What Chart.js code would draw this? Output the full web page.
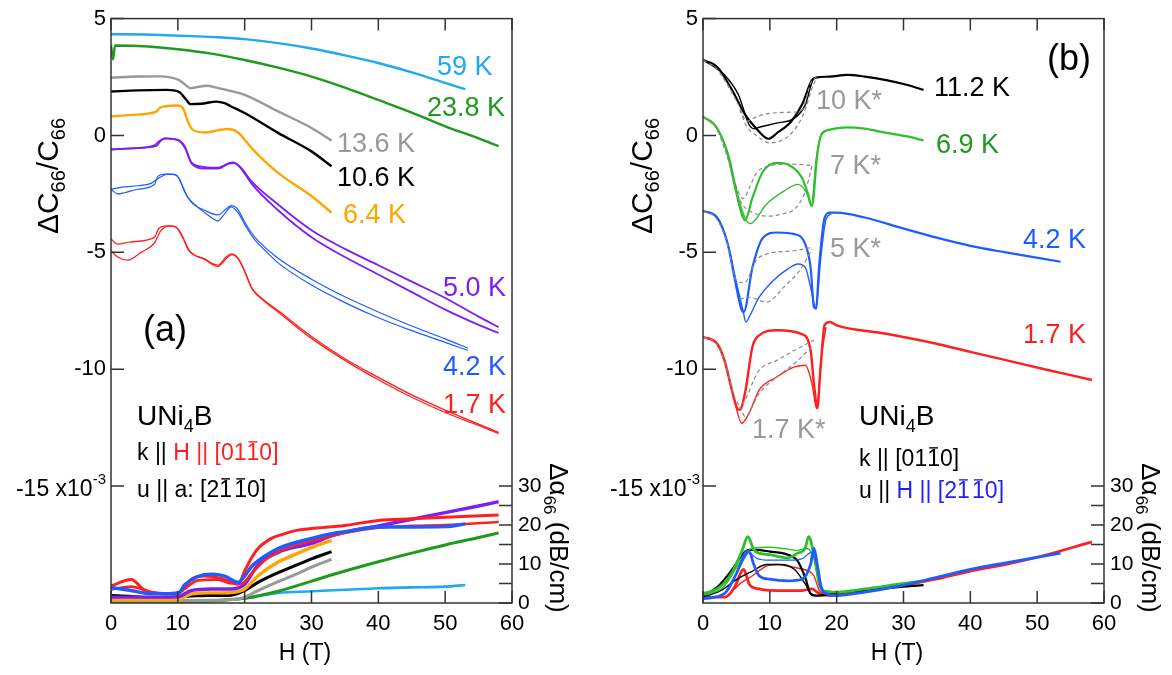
<!DOCTYPE html>
<html>
<head>
<meta charset="utf-8">
<title>UNi4B C66</title>
<script src="https://cdn.jsdelivr.net/npm/chart.js"></script>
<style>
  html, body { margin: 0; padding: 0; background: #fff; }
  #wrap { position: relative; width: 1172px; height: 675px; overflow: hidden; }
  #wrap canvas { position: absolute; top: 0; }
</style>
</head>
<body>
<div id="wrap">
  <canvas id="panelA" width="586" height="675" style="left:0"></canvas>
  <canvas id="panelB" width="586" height="675" style="left:586px"></canvas>
</div>
<script>
const FONT = "'Liberation Sans', Arial, Helvetica, sans-serif";

// axes
const H_TICKS = [0, 10, 20, 30, 40, 50, 60];
const C_TICKS = [5, 0, -5, -10, -15];          // ΔC66/C66 (x10^-3)
const ALPHA_TICKS = [0, 5, 10, 15, 20, 25, 30]; // Δα66 (dB/cm)

// ---------- (a) k || H || [01-10], ΔC66/C66 : [H (T), value] ----------
const aC59 = [[0,4.33],[5,4.32],[8.3,4.29],[12,4.25],[16,4.2],[20,4.12],[25,3.95],[30,3.72],[35,3.43],[40,3.1],[45,2.7],[50,2.25],[53,1.98]];
const aC23_8 = [[0,3.86],[0.3,3.25],[0.6,3.85],[5,3.82],[10,3.69],[15,3.5],[20,3.23],[25,2.9],[30,2.52],[35,2.05],[40,1.52],[45,0.98],[50,0.39],[55,-0.12],[58,-0.46]];
const aC13_6 = [[0,2.47],[4,2.52],[7.2,2.53],[10.2,2.37],[11.2,2.15],[11.9,2.02],[13,2.08],[14.3,2.13],[16,2.03],[18,1.9],[20,1.74],[25,1.03],[30,0.32],[33,-0.22]];
const aC10_6 = [[0,1.88],[4,1.93],[8.3,1.95],[10.2,1.86],[11.2,1.55],[11.9,1.34],[13.5,1.36],[15.8,1.45],[17,1.38],[18,1.24],[20,0.96],[25,0.11],[30,-0.68],[33,-1.32]];
const aC6_4 = [[0,0.81],[3,0.88],[6.8,1.02],[7.3,1.18],[8,1.24],[10,1.28],[10.8,1.15],[11.5,0.6],[12.2,0.25],[14,0.13],[16,0.22],[17.5,0.28],[19,0.13],[21,-0.53],[25,-1.6],[30,-2.59],[33,-3.3]];
const aC5_0up = [[0,-0.6],[3,-0.55],[6.8,-0.45],[7.5,-0.2],[8,-0.12],[10,-0.19],[11,-0.45],[12,-1.15],[14,-1.35],[16,-1.38],[17.5,-1.2],[18.3,-1.15],[19.5,-1.4],[21,-1.95],[25,-2.95],[30,-4.05],[35,-4.85],[40,-5.55],[45,-6.25],[50,-6.95],[55,-7.75],[58,-8.2]];
const aC5_0dn = [[0,-0.6],[3,-0.55],[6.5,-0.42],[7.2,-0.25],[8.2,-0.12],[10.2,-0.22],[11.2,-0.6],[12.2,-1.25],[14,-1.42],[16,-1.42],[17.5,-1.22],[18.5,-1.18],[19.8,-1.55],[21,-2.05],[25,-3.2],[30,-4.35],[35,-5.2],[40,-5.95],[45,-6.7],[50,-7.45],[55,-8.1],[58,-8.45]];
const aC4_2up = [[0,-2.3],[1,-2.5],[2,-2.45],[4,-2.3],[6.5,-2.1],[7,-1.75],[8,-1.65],[9.5,-1.66],[10.3,-1.9],[11,-2.4],[12,-2.85],[14,-3.2],[16,-3.4],[17.2,-3.15],[18,-3.0],[18.8,-3.1],[20,-3.7],[21,-4.15],[22,-4.5],[25,-5.25],[30,-6.15],[35,-6.9],[40,-7.55],[45,-8.15],[50,-8.7],[53.4,-9.1]];
const aC4_2dn = [[0,-2.3],[2,-2.2],[4,-2.15],[6,-2.05],[7,-1.85],[8.5,-1.65],[9.8,-1.7],[10.6,-2.1],[11.4,-2.6],[12.5,-2.95],[14.5,-3.4],[16,-3.65],[17,-3.35],[18,-3.05],[19,-3.3],[20.2,-3.9],[21.5,-4.45],[23,-4.9],[25,-5.45],[30,-6.4],[35,-7.15],[40,-7.8],[45,-8.35],[50,-8.85],[53.4,-9.2]];
const aC1_7up = [[0,-4.43],[1,-4.65],[3,-4.55],[6.5,-4.36],[7.1,-4.0],[8.4,-3.87],[9.6,-3.9],[10.5,-4.2],[11.6,-4.9],[14,-5.28],[16,-5.55],[17.2,-5.2],[18,-5.07],[19,-5.25],[20,-5.8],[21,-6.5],[22.5,-6.95],[25,-7.49],[30,-8.6],[35,-9.55],[40,-10.35],[45,-11.1],[50,-11.75],[55,-12.35],[58,-12.7]];
const aC1_7dn = [[0,-4.93],[1,-5.2],[2.5,-5.33],[4.5,-5.0],[6.5,-4.6],[7.4,-4.1],[8.8,-3.87],[9.8,-3.95],[10.8,-4.4],[11.8,-4.95],[14,-5.3],[16,-5.6],[17.4,-5.22],[18.2,-5.1],[19.2,-5.35],[20.2,-5.95],[21.2,-6.6],[23,-7.1],[25,-7.55],[30,-8.68],[35,-9.62],[40,-10.45],[45,-11.2],[50,-11.85],[55,-12.4],[58,-12.75]];

// (a) Δα66 (dB/cm)
const aA59 = [[0,0.3],[10,0.4],[15,0.5],[20,1.2],[25,2.6],[30,3.0],[35,3.4],[40,3.8],[45,4.0],[50,4.2],[53,4.6]];
const aA23_8 = [[0,0.5],[10,0.5],[15,0.6],[20,1.2],[25,3.0],[30,5.6],[35,8.2],[40,10.6],[45,12.8],[50,14.9],[55,16.8],[58,18.0]];
const aA13_6 = [[0,0.6],[10,0.6],[15,0.7],[19,1.0],[20,1.5],[22,3.2],[25,5.5],[28,7.6],[30,9.2],[33,11.2]];
const aA10_6 = [[0,1.9],[3,1.7],[6,1.4],[10,1.5],[12,1.8],[15,1.9],[18,2.0],[20,3.2],[22,5.3],[25,7.8],[28,9.9],[30,11.3],[33,13.2]];
const aA6_4 = [[0,0.8],[5,0.8],[10,0.9],[12,2.3],[15,2.6],[18,2.7],[20,3.6],[22,7.0],[25,10.5],[28,12.8],[31,14.9],[33,16.1]];
const aA5_0 = [[0,1.5],[5,1.5],[10,1.6],[12,3.2],[15,3.6],[18,3.6],[20,4.8],[22,9.8],[25,13.0],[30,15.3],[33,17.2],[35,18.2],[40,19.8],[45,21.5],[50,23.2],[55,24.9],[58,26.0]];
const aA4_2 = [[0,4.0],[3,3.2],[6,2.4],[10,2.4],[11,4.6],[13,6.8],[15,7.4],[17,6.9],[19,5.3],[20,6.9],[21,9.3],[23,12.0],[25,14.0],[30,16.6],[33,17.8],[35,18.3],[40,19.5],[45,19.5],[50,19.6],[53,20.3]];
const aA1_7up = [[0,4.4],[3,6.0],[5,3.4],[8,2.4],[10,2.7],[11,3.8],[12,6.1],[14,6.9],[16,6.5],[18,5.4],[19,4.8],[20,8.2],[21,11.5],[22,14.0],[24,16.6],[26,17.8],[28,18.7],[30,19.1],[35,19.9],[40,21.2],[45,21.6],[50,22.0],[58,22.6]];
const aA1_7dn = [[0,3.5],[3,4.2],[6,2.8],[10,2.4],[11,3.6],[13,5.8],[16,6.0],[18,5.0],[19.5,5.0],[21,7.5],[23,11.0],[25,13.2],[30,16.0],[35,18.0],[40,19.3],[45,19.8],[50,20.0],[58,20.8]];

// ---------- (b) u || H || [2-1-10], ΔC66/C66 ----------
const bC11_2up = [[0,3.23],[2.1,2.94],[4.2,2.02],[6.3,0.89],[7.9,0.32],[9.8,-0.14],[11.1,0.11],[13.2,0.6],[14.8,1.31],[16.3,2.37],[16.9,2.47],[19,2.52],[21.6,2.59],[24.2,2.52],[27.4,2.37],[30.6,2.16],[33,1.95]];
const bC11_2dn = [[0,3.23],[1.6,2.95],[3.2,2.6],[5.3,1.74],[6.9,0.46],[7.7,0.29],[8.4,0.35],[11,0.53],[13.7,0.74],[15.3,1.31],[16.6,2.45],[17.2,2.5]];
const bC10sim_up = [[0,3.23],[2,2.85],[4,2.0],[5.5,1.2],[6.5,0.6],[8,0.8],[10,0.95],[13.5,1.0],[14.8,1.1],[16.2,2.3],[17,2.5]];
const bC10sim_dn = [[5.5,1.1],[6.5,0.4],[8,0.0],[10,-0.32],[12,-0.18],[13.5,0.18],[15,0.89],[16.5,2.16],[17,2.45]];
const bC6_9up = [[0,0.81],[2.1,0.32],[3.7,-0.82],[4.7,-2.09],[5.8,-3.37],[6.3,-3.63],[7.4,-2.66],[9,-1.53],[11.1,-1.17],[12.7,-1.24],[14.8,-1.81],[15.6,-2.4],[16.3,-3.02],[17.1,-0.82],[17.7,0.03],[19,0.25],[21.6,0.35],[24.2,0.29],[27.4,0.11],[30.6,-0.04],[33,-0.22]];
const bC6_9dn = [[0,0.81],[2.1,0.3],[3.9,-0.9],[5,-2.3],[6.1,-3.4],[7.1,-3.77],[9.5,-2.94],[12.1,-2.38],[14.2,-2.09],[15.6,-2.52],[16.2,-3.0],[16.9,-1.1],[17.5,-0.1],[18.2,0.2]];
const bC7sim_up = [[0,0.8],[2,0.3],[3.5,-0.8],[5,-2.2],[6,-2.7],[7,-2.2],[8,-1.6],[10,-1.3],[13,-1.22],[15,-1.25],[16.5,-1.3]];
const bC7sim_dn = [[5,-2.5],[6,-3.0],[7.5,-3.3],[9.5,-3.45],[12,-3.35],[13.7,-3.15],[15.3,-2.4],[16.3,-1.3]];
const bC4_2up = [[0,-3.23],[2.1,-3.51],[3.7,-4.65],[4.7,-6.07],[5.8,-7.48],[6.1,-7.55],[7.4,-5.64],[9,-4.36],[11.1,-4.15],[13.7,-4.22],[15.3,-4.65],[16.1,-5.64],[16.6,-7.34],[16.9,-7.4],[17.4,-5.5],[18.2,-3.51],[19,-3.3],[20,-3.3],[24.2,-3.51],[29.5,-3.94],[34.8,-4.36],[40,-4.72],[45.3,-5.0],[53.5,-5.4]];
const bC4_2dn = [[0,-3.23],[2.1,-3.5],[3.8,-4.7],[5,-6.3],[6,-7.5],[6.4,-7.98],[6.9,-7.77],[8.4,-6.92],[10.5,-6.21],[12.7,-5.71],[14.2,-5.5],[15.3,-5.64],[16.1,-6.49],[16.9,-7.41],[17.6,-5.3],[18.4,-3.6],[19.2,-3.35]];
const bC5sim_up = [[0,-3.23],[2,-3.55],[3.5,-4.5],[5,-6.2],[6.2,-6.3],[7.9,-5.36],[9.5,-5.07],[13.7,-4.93],[16.3,-4.79]];
const bC5sim_dn = [[5.5,-7.0],[6.9,-6.92],[9.5,-7.13],[12.1,-6.49],[14.8,-5.64],[16.3,-4.86]];
const bC1_7up = [[0,-8.62],[2.1,-8.9],[3.2,-9.61],[4.2,-10.75],[5,-11.6],[5.5,-11.74],[6.3,-11.0],[7.4,-9.04],[8.4,-8.55],[11.1,-8.33],[14.8,-8.5],[16.1,-9.19],[16.6,-10.6],[17.1,-11.67],[17.6,-9.9],[18.2,-8.1],[19,-7.98],[20,-8.12],[27.4,-8.48],[34.8,-8.9],[40,-9.26],[45.3,-9.61],[50.6,-9.97],[58.2,-10.46]];
const bC1_7dn = [[0,-8.62],[2.1,-8.95],[3.4,-9.8],[4.6,-11.2],[5.8,-12.31],[6.9,-11.88],[8.4,-10.89],[11.1,-10.32],[13.7,-9.9],[15.3,-9.83],[16.3,-10.6],[17,-11.67],[17.7,-9.5],[18.4,-8.2]];
const bC1_7sim_up = [[0,-8.62],[2,-8.9],[3.5,-9.9],[4.7,-11.17],[5.5,-11.53],[8.4,-10.04],[11.1,-9.61],[13.7,-9.19],[16.6,-8.76]];
const bC1_7sim_dn = [[5.5,-11.6],[6.3,-12.02],[8.4,-11.03],[11.1,-10.32],[13.7,-9.75],[16.3,-9.04]];

// (b) Δα66 (dB/cm)
const bA11_2up = [[0,1.9],[2.1,4.0],[4.2,8.2],[6.3,13.2],[7.4,13.7],[10,13.2],[12.7,12.4],[14.2,10.7],[15.3,6.5],[16.1,2.4],[17,1.9],[20,2.6],[25,3.4],[30,4.2],[33,4.6]];
const bA11_2dn = [[0,1.5],[3,3.5],[4.7,5.7],[7.4,8.2],[9.5,9.9],[11.6,9.9],[13.7,8.6],[15.3,4.9],[16.4,1.9],[18,1.9]];
const bA6_9up = [[0,2.4],[2.1,3.6],[4.2,7.4],[5.8,13.2],[6.7,17.0],[7.6,13.7],[8.4,12.8],[10,12.4],[12.7,11.6],[14.2,12.8],[15.3,14.1],[15.8,17.0],[16.6,12.4],[17.4,4.9],[17.9,3.2],[20,2.8],[24.2,3.6],[29.5,4.9],[33,5.7]];
const bA6_9dn = [[0,2.0],[3,4.0],[5,9.0],[6.5,13.0],[8,14.2],[10,14.3],[12,14.0],[14,13.5],[15.5,14.0],[16.5,12.0],[17.5,5.0],[18,3.0]];
const bA4_2up = [[0,1.1],[3.2,2.4],[4.7,6.5],[6.1,11.6],[6.9,13.2],[7.6,9.9],[8.4,7.0],[10,6.1],[12.7,5.7],[14.8,6.1],[16.1,9.9],[16.6,14.1],[17.1,9.9],[17.7,4.0],[18.5,2.4],[20,1.9],[24.2,2.8],[29.5,4.4],[34.8,6.5],[40,8.6],[45.3,10.3],[53.5,12.8]];
const bA4_2dn = [[0,1.0],[3.5,2.8],[5,7.5],[6.5,13.5],[8,11.5],[10,11.0],[13,11.0],[15,11.5],[16.2,13.0],[17,10.0],[17.8,3.0],[19,2.0]];
const bA1_7up = [[0,1.5],[3.2,1.5],[4.7,4.0],[5.8,8.2],[6.1,8.6],[6.9,4.9],[8.4,3.6],[11.1,3.2],[14.8,3.2],[16.3,3.6],[17.4,2.4],[19,1.9],[24.2,3.2],[29.5,4.4],[34.8,6.1],[40,8.2],[45.3,9.9],[50.6,12.0],[58.2,15.7]];
const bA1_7dn = [[4.7,3.5],[5.5,4.9],[7.4,7.0],[9.5,9.5],[11.1,9.9],[13.7,9.1],[15.8,8.2],[16.6,7.0],[17.4,3.2],[18.5,2.0]];

const SKY = '#1fa9f0', GREEN = '#1e9a1e', LIME = '#2cc02c', GRAY = '#999999', DASH = '#8a8a8a';
const BLACK = '#000000', ORANGE = '#ffa500', PURPLE = '#7d1ff0', BLUE = '#1f5cff', RED = '#ff1f1f';

function ds(pts, color, width, axis, dash) {
    return {
        data: pts.map(p => ({ x: p[0], y: p[1] })),
        borderColor: color,
        borderWidth: width,
        borderDash: dash || [],
        yAxisID: axis,
        pointRadius: 0,
        pointHitRadius: 0,
        cubicInterpolationMode: 'monotone',
        fill: false
    };
}

// box + inner tick marks, taken from the scales
const framePlugin = {
    id: 'frame',
    afterDatasetsDraw(chart) {
        const { ctx, chartArea: a, scales } = chart;
        ctx.save();
        ctx.strokeStyle = '#333';
        ctx.lineWidth = 1.5;
        ctx.beginPath();
        scales.x.ticks.forEach(t => {
            const p = scales.x.getPixelForValue(t.value);
            ctx.moveTo(p, a.bottom); ctx.lineTo(p, a.bottom - 12);
            ctx.moveTo(p, a.top); ctx.lineTo(p, a.top + 12);
        });
        scales.y.ticks.forEach(t => {
            const p = scales.y.getPixelForValue(t.value);
            ctx.moveTo(a.left, p); ctx.lineTo(a.left + 13, p);
        });
        scales.y1.ticks.forEach(t => {
            const p = scales.y1.getPixelForValue(t.value);
            ctx.moveTo(a.right, p); ctx.lineTo(a.right - 13, p);
        });
        ctx.stroke();
        ctx.strokeRect(a.left, a.top, a.right - a.left, a.bottom - a.top);
        ctx.restore();
    }
};

// text with sub/superscripts and overbars
function drawRich(ctx, it) {
    const size = it.size;
    ctx.save();
    ctx.translate(it.x, it.y);
    if (it.rot) ctx.rotate(it.rot);
    ctx.textBaseline = 'alphabetic';
    ctx.textAlign = 'left';
    const parts = it.parts.map(p => {
        const s = p.s || size;
        ctx.font = s + 'px ' + FONT;
        return { t: p.t, s: s, c: p.c || it.color || '#000', dy: p.dy || 0, bar: p.bar, w: ctx.measureText(p.t).width };
    });
    const total = parts.reduce((n, p) => n + p.w, 0);
    let x = it.align === 'center' ? -total / 2 : it.align === 'right' ? -total : 0;
    const base = 0.36 * size;
    parts.forEach(p => {
        ctx.font = p.s + 'px ' + FONT;
        ctx.fillStyle = p.c;
        ctx.fillText(p.t, x, base + p.dy);
        if (p.bar) {
            ctx.strokeStyle = p.c;
            ctx.lineWidth = 1.4;
            ctx.beginPath();
            ctx.moveTo(x + 2, base - 0.8 * p.s);
            ctx.lineTo(x + p.w - 2, base - 0.8 * p.s);
            ctx.stroke();
        }
        x += p.w;
    });
    ctx.restore();
}

function notesPlugin(items) {
    return {
        id: 'notes',
        afterDraw(chart) {
            items.forEach(it => drawRich(chart.ctx, it));
        }
    };
}

function makePanel(id, datasets, leftW, rightW, notes) {
    const tickFont = { family: FONT, size: 22 };
    return new Chart(document.getElementById(id), {
        type: 'line',
        data: { datasets: datasets },
        options: {
            responsive: false,
            animation: false,
            devicePixelRatio: 1,
            layout: { padding: { top: 13, left: 0, right: 0, bottom: 0 }, autoPadding: false },
            plugins: { legend: { display: false }, tooltip: { enabled: false } },
            scales: {
                x: {
                    type: 'linear', min: 0, max: 60,
                    grid: { display: false, drawTicks: false },
                    border: { display: false },
                    afterBuildTicks: s => { s.ticks = H_TICKS.map(v => ({ value: v })); },
                    afterFit: s => { s.height = 72; },
                    ticks: { color: '#000', font: tickFont, padding: 8, maxRotation: 0, autoSkip: false }
                },
                y: {
                    type: 'linear', position: 'left', min: -20, max: 5,
                    grid: { display: false, drawTicks: false },
                    border: { display: false },
                    afterBuildTicks: s => { s.ticks = C_TICKS.map(v => ({ value: v })); },
                    afterFit: s => { s.width = leftW; },
                    ticks: { color: '#000', font: tickFont, padding: 5, autoSkip: false,
                        callback: v => (v === -15 ? '' : String(v)) }
                },
                y1: {
                    type: 'linear', position: 'right', min: 0, max: 150,
                    grid: { display: false, drawTicks: false },
                    border: { display: false },
                    afterBuildTicks: s => { s.ticks = ALPHA_TICKS.map(v => ({ value: v })); },
                    afterFit: s => { s.width = rightW; },
                    ticks: { color: '#000', font: { family: FONT, size: 21 }, padding: 6, autoSkip: false,
                        callback: v => (v % 10 === 0 ? String(v) : '') }
                }
            }
        },
        plugins: [framePlugin, notesPlugin(notes)]
    });
}

function axisNotes(leftX, rightX, hX, expRight) {
    return [
        { x: leftX, y: 176, size: 30, align: 'center', rot: -Math.PI / 2,
          parts: [{ t: 'ΔC' }, { t: '66', s: 20, dy: 7 }, { t: '/C' }, { t: '66', s: 20, dy: 7 }] },
        { x: rightX, y: 538, size: 26, align: 'center', rot: Math.PI / 2,
          parts: [{ t: 'Δα' }, { t: '66', s: 17, dy: 6 }, { t: ' (dB/cm)' }] },
        { x: hX, y: 652, size: 23, align: 'center', parts: [{ t: 'H (T)' }] },
        { x: expRight, y: 488, size: 23, align: 'right',
          parts: [{ t: '-15 x10' }, { t: '-3', s: 15, dy: -12 }] }
    ];
}

const LBL = 27;
const notesA = axisNotes(47, 559, 305, 106).concat([
    { x: 437, y: 65, size: LBL, color: SKY, parts: [{ t: '59 K' }] },
    { x: 427, y: 106, size: LBL, color: GREEN, parts: [{ t: '23.8 K' }] },
    { x: 337, y: 142, size: LBL, color: GRAY, parts: [{ t: '13.6 K' }] },
    { x: 337, y: 176, size: LBL, color: BLACK, parts: [{ t: '10.6 K' }] },
    { x: 343, y: 213, size: LBL, color: ORANGE, parts: [{ t: '6.4 K' }] },
    { x: 443, y: 286, size: LBL, color: PURPLE, parts: [{ t: '5.0 K' }] },
    { x: 165, y: 328, size: 36, align: 'center', parts: [{ t: '(a)' }] },
    { x: 443, y: 365, size: LBL, color: BLUE, parts: [{ t: '4.2 K' }] },
    { x: 443, y: 403, size: LBL, color: RED, parts: [{ t: '1.7 K' }] },
    { x: 137, y: 415, size: 28, parts: [{ t: 'UNi' }, { t: '4', s: 18, dy: 7 }, { t: 'B' }] },
    { x: 137, y: 452, size: 23, parts: [{ t: 'k || ' }, { t: 'H || [01', c: RED }, { t: '1', c: RED, bar: true }, { t: '0]', c: RED }] },
    { x: 137, y: 489, size: 23, parts: [{ t: 'u || a: [2' }, { t: '1', bar: true }, { t: ' ' , s: 8 }, { t: '1', bar: true }, { t: '0]' }] }
]);

const notesB = axisNotes(55, 565, 311, 114).concat([
    { x: 483, y: 57, size: 36, align: 'center', parts: [{ t: '(b)' }] },
    { x: 348, y: 86, size: LBL, color: BLACK, parts: [{ t: '11.2 K' }] },
    { x: 230, y: 99, size: LBL, color: GRAY, parts: [{ t: '10 K*' }] },
    { x: 350, y: 143, size: LBL, color: GREEN, parts: [{ t: '6.9 K' }] },
    { x: 244, y: 164, size: LBL, color: GRAY, parts: [{ t: '7 K*' }] },
    { x: 437, y: 238, size: LBL, color: BLUE, parts: [{ t: '4.2 K' }] },
    { x: 244, y: 247, size: LBL, color: GRAY, parts: [{ t: '5 K*' }] },
    { x: 437, y: 333, size: LBL, color: RED, parts: [{ t: '1.7 K' }] },
    { x: 166, y: 428, size: LBL, color: GRAY, parts: [{ t: '1.7 K*' }] },
    { x: 273, y: 415, size: 28, parts: [{ t: 'UNi' }, { t: '4', s: 18, dy: 7 }, { t: 'B' }] },
    { x: 273, y: 458, size: 23, parts: [{ t: 'k || [01' }, { t: '1', bar: true }, { t: '0]' }] },
    { x: 273, y: 490, size: 23, parts: [{ t: 'u || ' }, { t: 'H || [2', c: '#2020ff' }, { t: '1', c: '#2020ff', bar: true }, { t: ' ', s: 8 }, { t: '1', c: '#2020ff', bar: true }, { t: '0]', c: '#2020ff' }] }
]);

const setA = [
    ds(aC59, SKY, 2.4, 'y'), ds(aC23_8, GREEN, 2.4, 'y'), ds(aC13_6, GRAY, 2.4, 'y'),
    ds(aC10_6, BLACK, 2.4, 'y'), ds(aC6_4, ORANGE, 2.4, 'y'),
    ds(aC5_0up, PURPLE, 1.8, 'y'), ds(aC5_0dn, PURPLE, 1.8, 'y'),
    ds(aC4_2up, BLUE, 1.2, 'y'), ds(aC4_2dn, BLUE, 1.2, 'y'),
    ds(aC1_7up, RED, 1.3, 'y'), ds(aC1_7dn, RED, 1.3, 'y'),
    ds(aA4_2, BLUE, 3.4, 'y1'), ds(aA1_7up, RED, 3, 'y1'), ds(aA1_7dn, RED, 2.6, 'y1'),
    ds(aA5_0, PURPLE, 3.4, 'y1'), ds(aA6_4, ORANGE, 3.4, 'y1'), ds(aA10_6, BLACK, 3, 'y1'),
    ds(aA13_6, GRAY, 3, 'y1'), ds(aA23_8, GREEN, 3, 'y1'), ds(aA59, SKY, 2.6, 'y1')
];

const dash = [4, 3];
const setB = [
    ds(bC10sim_up, DASH, 1.2, 'y', dash), ds(bC10sim_dn, DASH, 1.2, 'y', dash),
    ds(bC7sim_up, DASH, 1.2, 'y', dash), ds(bC7sim_dn, DASH, 1.2, 'y', dash),
    ds(bC5sim_up, DASH, 1.2, 'y', dash), ds(bC5sim_dn, DASH, 1.2, 'y', dash),
    ds(bC1_7sim_up, DASH, 1.2, 'y', dash), ds(bC1_7sim_dn, DASH, 1.2, 'y', dash),
    ds(bC11_2up, BLACK, 2.2, 'y'), ds(bC11_2dn, BLACK, 1.4, 'y'),
    ds(bC6_9up, LIME, 2.2, 'y'), ds(bC6_9dn, LIME, 1.4, 'y'),
    ds(bC4_2up, BLUE, 2.2, 'y'), ds(bC4_2dn, BLUE, 1.4, 'y'),
    ds(bC1_7up, RED, 2.4, 'y'), ds(bC1_7dn, RED, 1.4, 'y'),
    ds(bA4_2up, BLUE, 2.8, 'y1'), ds(bA4_2dn, BLUE, 1.2, 'y1'),
    ds(bA6_9up, LIME, 2.8, 'y1'), ds(bA6_9dn, LIME, 1.4, 'y1'),
    ds(bA11_2up, BLACK, 2.2, 'y1'), ds(bA11_2dn, BLACK, 1.4, 'y1'),
    ds(bA1_7up, RED, 2.8, 'y1'), ds(bA1_7dn, RED, 1.4, 'y1')
];

makePanel('panelA', setA, 111, 74, notesA);
makePanel('panelB', setB, 117, 68, notesB);
</script>
</body>
</html>
